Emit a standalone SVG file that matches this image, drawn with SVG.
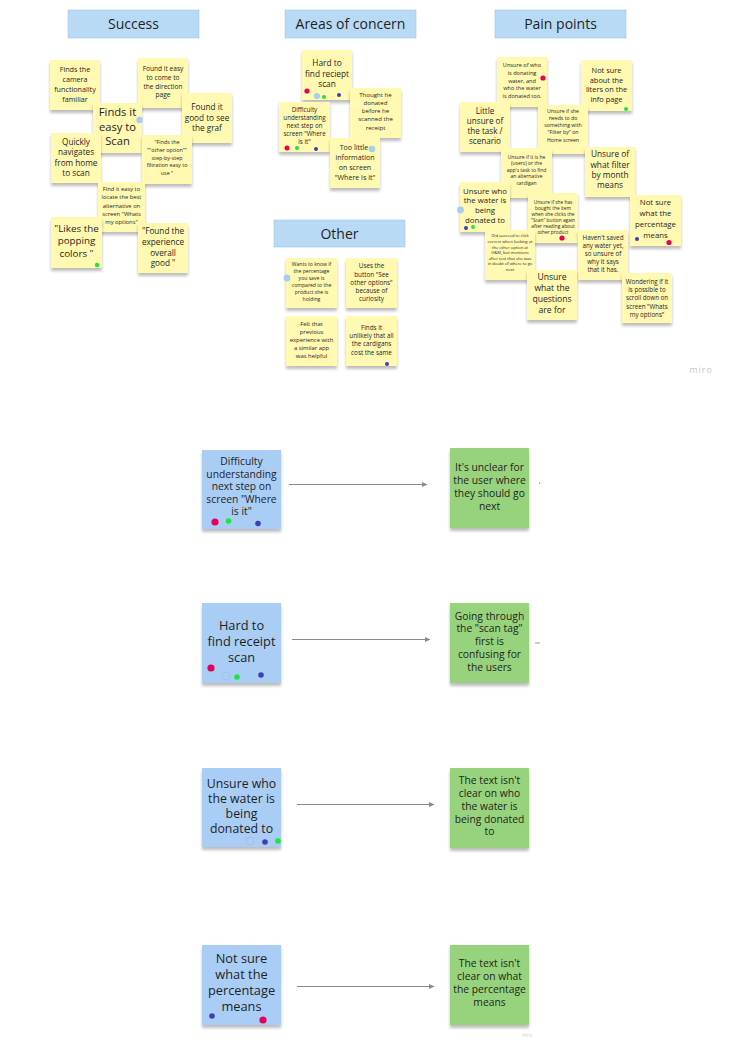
<svg xmlns="http://www.w3.org/2000/svg" width="729" height="1043" viewBox="0 0 729 1043">
<style>
text{font-family:"Open Sans","Noto Sans","Liberation Sans",sans-serif;fill:#1f1f1f;text-anchor:middle}
.y{fill:#fff9b1;filter:url(#sh)}
.b{fill:#a9cdf5;filter:url(#sh)}
.g{fill:#97d37c;filter:url(#sh)}
.h{fill:#b8daf5;stroke:#9fc6e6;stroke-width:0.6}
.ht{font-size:14px}
.dr{fill:#e6005c}.dg{fill:#1de53c}.db{fill:#3f3fb5}.dl{fill:#a9cdec}
.dc{fill:none;stroke:#9fbfd9;stroke-width:0.8}
.cn{stroke:#8a8a8a;stroke-width:1;fill:none;marker-end:url(#ah)}
</style>
<defs>
<filter id="sh" x="-20%" y="-20%" width="140%" height="150%">
<feDropShadow dx="0" dy="3" stdDeviation="1.8" flood-color="#000" flood-opacity="0.26"/>
</filter>
<marker id="ah" viewBox="0 0 6 6" refX="5" refY="3" markerWidth="6" markerHeight="6" orient="auto" markerUnits="userSpaceOnUse">
<path d="M0,0.5 L5.5,3 L0,5.5 z" fill="#8a8a8a"/>
</marker>
</defs>
<rect width="729" height="1043" fill="#ffffff"/>

<g id="header-success"><rect class="h" x="68" y="10" width="131" height="28"/><text class="ht" x="133.5" y="29">Success</text></g>
<g id="header-areas"><rect class="h" x="285" y="10" width="131" height="28"/><text class="ht" x="350.5" y="29">Areas of concern</text></g>
<g id="header-pain"><rect class="h" x="495" y="10" width="131" height="28"/><text class="ht" x="560.5" y="29">Pain points</text></g>
<g id="header-other"><rect class="h" x="274" y="220" width="131" height="27"/><text class="ht" x="339.5" y="238.5">Other</text></g>

<!-- Success -->
<g id="s1"><rect class="y" x="50" y="60" width="50" height="50"/><text font-size="7.2"><tspan x="75" y="71.6">Finds the</tspan><tspan x="75" dy="10">camera</tspan><tspan x="75" dy="10">functionality</tspan><tspan x="75" dy="10">familiar</tspan></text></g>
<g id="s2"><rect class="y" x="138" y="58" width="50" height="50"/><text font-size="6.6"><tspan x="163" y="70.7">Found it easy</tspan><tspan x="163" dy="8.9">to come to</tspan><tspan x="163" dy="8.9">the direction</tspan><tspan x="163" dy="8.9">page</tspan></text></g>
<g id="s3"><rect class="y" x="182" y="93" width="50" height="50"/><text font-size="8.2"><tspan x="207" y="109.7">Found it</tspan><tspan x="207" dy="10.8">good to see</tspan><tspan x="207" dy="10.8">the graf</tspan></text></g>
<g id="s4"><rect class="y" x="93" y="103" width="49" height="50"/><text font-size="11.2"><tspan x="117.5" y="116.3">Finds it</tspan><tspan x="117.5" dy="14.2">easy to</tspan><tspan x="117.5" dy="14.2">Scan</tspan></text><circle class="dl" cx="139.5" cy="120" r="3.2"/></g>
<g id="s5"><rect class="y" x="51" y="133" width="50" height="50"/><text font-size="8.2"><tspan x="76" y="144.7">Quickly</tspan><tspan x="76" dy="10.5">navigates</tspan><tspan x="76" dy="10.5">from home</tspan><tspan x="76" dy="10.5">to scan</tspan></text></g>
<g id="s6"><rect class="y" x="142" y="135" width="50" height="49"/><text font-size="5.4"><tspan x="167" y="144.3">"Finds the</tspan><tspan x="167" dy="7.6">""other option""</tspan><tspan x="167" dy="7.6">step-by-step</tspan><tspan x="167" dy="7.6">filtration easy to</tspan><tspan x="167" dy="7.6">use "</tspan></text></g>
<g id="s7"><rect class="y" x="98" y="182" width="47" height="50"/><text font-size="5.8"><tspan x="121.5" y="191.2">Find it easy to</tspan><tspan x="121.5" dy="8.2">locate the best</tspan><tspan x="121.5" dy="8.2">alternative on</tspan><tspan x="121.5" dy="8.2">screen "Whats</tspan><tspan x="121.5" dy="8.2">my options"</tspan></text></g>
<g id="s8"><rect class="y" x="51" y="217" width="51" height="51"/><text font-size="9.8"><tspan x="76.5" y="231.8">"Likes the</tspan><tspan x="76.5" dy="12.5">popping</tspan><tspan x="76.5" dy="12.5">colors "</tspan></text><circle class="dg" cx="97" cy="265" r="2.2"/></g>
<g id="s9"><rect class="y" x="138" y="223" width="50" height="50"/><text font-size="8.2"><tspan x="163" y="234">"Found the</tspan><tspan x="163" dy="10.8">experience</tspan><tspan x="163" dy="10.8">overall</tspan><tspan x="163" dy="10.8">good "</tspan></text></g>

<!-- Areas of concern -->
<g id="a1"><rect class="y" x="302" y="50" width="50" height="50"/><text font-size="8.3"><tspan x="327" y="66.3">Hard to</tspan><tspan x="327" dy="10.5">find reciept</tspan><tspan x="327" dy="10.5">scan</tspan></text><circle class="dr" cx="307" cy="91" r="2.6"/><circle class="dl" cx="317" cy="96" r="3"/><circle class="dg" cx="324" cy="97" r="2"/><circle class="db" cx="339" cy="95" r="2"/></g>
<g id="a2"><rect class="y" x="350" y="88" width="51" height="50"/><text font-size="6.1"><tspan x="375.5" y="96.5">Thought he</tspan><tspan x="375.5" dy="8.3">donated</tspan><tspan x="375.5" dy="8.3">before he</tspan><tspan x="375.5" dy="8.3">scanned the</tspan><tspan x="375.5" dy="8.3">receipt</tspan></text></g>
<g id="a3"><rect class="y" x="279" y="102" width="51" height="50"/><text font-size="6.2"><tspan x="304.5" y="112.3">Difficulty</tspan><tspan x="304.5" dy="7.9">understanding</tspan><tspan x="304.5" dy="7.9">next step on</tspan><tspan x="304.5" dy="7.9">screen "Where</tspan><tspan x="304.5" dy="7.9">is it"</tspan></text><circle class="dr" cx="287" cy="148" r="2.5"/><circle class="dg" cx="297" cy="148" r="2"/><circle class="db" cx="316" cy="149" r="2"/></g>
<g id="a4"><rect class="y" x="330" y="138" width="50" height="50"/><text font-size="7.1"><tspan x="354" y="149.5">Too little</tspan><tspan x="355" dy="10">information</tspan><tspan x="355" dy="10">on screen</tspan><tspan x="355" dy="10">"Where is it"</tspan></text><circle class="dl" cx="372" cy="149" r="3.3"/></g>

<!-- Other -->
<g id="o1"><rect class="y" x="286" y="258" width="51" height="50"/><text font-size="5.1"><tspan x="311.5" y="265.8">Wants to know if</tspan><tspan x="311.5" dy="7">the percentage</tspan><tspan x="311.5" dy="7">you save is</tspan><tspan x="311.5" dy="7">compared to the</tspan><tspan x="311.5" dy="7">product she is</tspan><tspan x="311.5" dy="7">holding</tspan></text><circle class="dl" cx="287" cy="278" r="3.4"/></g>
<g id="o2"><rect class="y" x="346" y="258" width="51" height="50"/><text font-size="6.3"><tspan x="371.5" y="268.3">Uses the</tspan><tspan x="371.5" dy="8.2">button "See</tspan><tspan x="371.5" dy="8.2">other options"</tspan><tspan x="371.5" dy="8.2">because of</tspan><tspan x="371.5" dy="8.2">curiosity</tspan></text></g>
<g id="o3"><rect class="y" x="286" y="316" width="51" height="50"/><text font-size="5.9"><tspan x="311.5" y="326.4">Felt that</tspan><tspan x="311.5" dy="7.8">previous</tspan><tspan x="311.5" dy="7.8">experience with</tspan><tspan x="311.5" dy="7.8">a similar app</tspan><tspan x="311.5" dy="7.8">was helpful</tspan></text></g>
<g id="o4"><rect class="y" x="346" y="316" width="51" height="50"/><text font-size="6.3"><tspan x="371.5" y="329.6">Finds it</tspan><tspan x="371.5" dy="8.3">unlikely that all</tspan><tspan x="371.5" dy="8.3">the cardigans</tspan><tspan x="371.5" dy="8.3">cost the same</tspan></text><circle class="db" cx="387" cy="364" r="2"/></g>

<!-- Pain points -->
<g id="p1"><rect class="y" x="497" y="57" width="50" height="50"/><text font-size="5.6"><tspan x="522" y="67">Unsure of who</tspan><tspan x="522" dy="7.8">is donating</tspan><tspan x="522" dy="7.8">water, and</tspan><tspan x="522" dy="7.8">who the water</tspan><tspan x="522" dy="7.8">is donated too.</tspan></text><circle class="dr" cx="543" cy="78" r="2.6"/></g>
<g id="p2"><rect class="y" x="581" y="60" width="51" height="51"/><text font-size="7.4"><tspan x="606.5" y="73.4">Not sure</tspan><tspan x="606.5" dy="9.4">about the</tspan><tspan x="606.5" dy="9.4">liters on the</tspan><tspan x="606.5" dy="9.4">info page</tspan></text><circle class="dg" cx="626" cy="109" r="2"/></g>
<g id="p3"><rect class="y" x="460" y="102" width="50" height="50"/><text font-size="8.1"><tspan x="485" y="113.7">Little</tspan><tspan x="485" dy="10.2">unsure of</tspan><tspan x="485" dy="10.2">the task /</tspan><tspan x="485" dy="10.2">scenario</tspan></text></g>
<g id="p4"><rect class="y" x="538" y="105" width="50" height="49"/><text font-size="5.2"><tspan x="563" y="112.8">Unsure if she</tspan><tspan x="563" dy="7.2">needs to do</tspan><tspan x="563" dy="7.2">something with</tspan><tspan x="563" dy="7.2">"Filter by" on</tspan><tspan x="563" dy="7.2">Home screen</tspan></text></g>
<g id="p5"><rect class="y" x="501" y="148" width="51" height="50"/><text font-size="5"><tspan x="526.5" y="158.5">Unsure if it is he</tspan><tspan x="526.5" dy="6.5">(users) or the</tspan><tspan x="526.5" dy="6.5">app's task to find</tspan><tspan x="526.5" dy="6.5">an alternative</tspan><tspan x="526.5" dy="6.5">cardigan</tspan></text></g>
<g id="p6"><rect class="y" x="585" y="147" width="50" height="50"/><text font-size="8.3"><tspan x="610" y="157.3">Unsure of</tspan><tspan x="610" dy="10.2">what filter</tspan><tspan x="610" dy="10.2">by month</tspan><tspan x="610" dy="10.2">means</tspan></text></g>
<g id="p7"><rect class="y" x="460" y="182" width="50" height="50"/><text font-size="7.8"><tspan x="485" y="193.5">Unsure who</tspan><tspan x="485" dy="9.8">the water is</tspan><tspan x="485" dy="9.8">being</tspan><tspan x="485" dy="9.8">donated to</tspan></text><circle class="dl" cx="460.5" cy="210" r="3.4"/><circle class="db" cx="466" cy="228" r="2"/><circle class="dg" cx="473" cy="227" r="2"/></g>
<g id="p8"><rect class="y" x="528" y="193" width="50" height="50"/><text font-size="4.8"><tspan x="553" y="204">Unsure if she has</tspan><tspan x="553" dy="6">bought the item</tspan><tspan x="553" dy="6">when she clicks the</tspan><tspan x="553" dy="6">"Scan" button again</tspan><tspan x="553" dy="6">after reading about</tspan><tspan x="553" dy="6">other product</tspan></text><circle class="dr" cx="562" cy="238" r="2.6"/></g>
<g id="p9"><rect class="y" x="630" y="195" width="51" height="51"/><text font-size="7.8"><tspan x="655.5" y="205">Not sure</tspan><tspan x="655.5" dy="11">what the</tspan><tspan x="655.5" dy="11">percentage</tspan><tspan x="655.5" dy="11">means</tspan></text><circle class="db" cx="637" cy="239" r="2"/><circle class="dr" cx="669" cy="242.5" r="2.6"/></g>
<g id="p10"><rect class="y" x="485" y="230" width="50" height="50"/><text font-size="4.1"><tspan x="510" y="237.4">Did succeed to click</tspan><tspan x="510" dy="5.6">correct when looking at</tspan><tspan x="510" dy="5.6">the other option at</tspan><tspan x="510" dy="5.6">H&amp;M, but mentions</tspan><tspan x="510" dy="5.6">after test that she was</tspan><tspan x="510" dy="5.6">in doubt of where to go</tspan><tspan x="510" dy="5.6">next</tspan></text></g>
<g id="p11"><rect class="y" x="578" y="230" width="50" height="50"/><text font-size="6.3"><tspan x="603" y="239.6">Haven't saved</tspan><tspan x="603" dy="8.2">any water yet,</tspan><tspan x="603" dy="8.2">so unsure of</tspan><tspan x="603" dy="8.2">why it says</tspan><tspan x="603" dy="8.2">that it has.</tspan></text></g>
<g id="p12"><rect class="y" x="527" y="270" width="50" height="50"/><text font-size="8.6"><tspan x="552" y="280.3">Unsure</tspan><tspan x="552" dy="10.9">what the</tspan><tspan x="552" dy="10.9">questions</tspan><tspan x="552" dy="10.9">are for</tspan></text></g>
<g id="p13"><rect class="y" x="622" y="273" width="50" height="50"/><text font-size="6.2"><tspan x="647" y="284">Wondering if it</tspan><tspan x="647" dy="8.2">is possible to</tspan><tspan x="647" dy="8.2">scroll down on</tspan><tspan x="647" dy="8.2">screen "Whats</tspan><tspan x="647" dy="8.2">my options"</tspan></text></g>

<text x="701" y="373" font-size="9" style="fill:#c9c9c9;letter-spacing:1px">miro</text>

<!-- Bottom rows -->
<g id="b1"><rect class="b" x="202" y="450" width="79" height="79"/><text font-size="10.3"><tspan x="241.5" y="465.4">Difficulty</tspan><tspan x="241.5" dy="12.5">understanding</tspan><tspan x="241.5" dy="12.5">next step on</tspan><tspan x="241.5" dy="12.5">screen "Where</tspan><tspan x="241.5" dy="12.5">is it"</tspan></text><circle class="dr" cx="215" cy="522" r="3.6"/><circle class="dg" cx="228.5" cy="521" r="2.8"/><circle class="db" cx="258" cy="523.5" r="2.8"/></g>
<g id="g1"><rect class="g" x="450" y="448" width="79" height="80"/><text font-size="10.3"><tspan x="489.5" y="471">It's unclear for</tspan><tspan x="489.5" dy="12.9">the user where</tspan><tspan x="489.5" dy="12.9">they should go</tspan><tspan x="489.5" dy="12.9">next</tspan></text></g>
<rect x="539" y="482.5" width="1.2" height="1.2" fill="#888"/>

<g id="b2"><rect class="b" x="202" y="603" width="79" height="80"/><text font-size="12.8"><tspan x="241.5" y="629.6">Hard to</tspan><tspan x="241.5" dy="16.3">find receipt</tspan><tspan x="241.5" dy="16.3">scan</tspan></text><circle class="dr" cx="211" cy="668" r="3.6"/><circle class="dc" cx="226" cy="676" r="4"/><circle class="dg" cx="237" cy="677" r="2.8"/><circle class="db" cx="261" cy="675" r="2.8"/></g>
<g id="g2"><rect class="g" x="450" y="603" width="79" height="80"/><text font-size="10.3"><tspan x="489.5" y="619.7">Going through</tspan><tspan x="489.5" dy="12.7">the "scan tag"</tspan><tspan x="489.5" dy="12.7">first is</tspan><tspan x="489.5" dy="12.7">confusing for</tspan><tspan x="489.5" dy="12.7">the users</tspan></text></g>
<rect x="535" y="642.5" width="5" height="1" fill="#999"/>

<g id="b3"><rect class="b" x="202" y="768" width="79" height="79"/><text font-size="12.3"><tspan x="241.5" y="787.6">Unsure who</tspan><tspan x="241.5" dy="15.2">the water is</tspan><tspan x="241.5" dy="15.2">being</tspan><tspan x="241.5" dy="15.2">donated to</tspan></text><circle class="dc" cx="250" cy="841" r="4"/><circle class="db" cx="265" cy="842" r="2.8"/><circle class="dg" cx="278" cy="841" r="2.8"/></g>
<g id="g3"><rect class="g" x="450" y="768" width="79" height="80"/><text font-size="10.3"><tspan x="489.5" y="784.4">The text isn't</tspan><tspan x="489.5" dy="12.75">clear on who</tspan><tspan x="489.5" dy="12.75">the water is</tspan><tspan x="489.5" dy="12.75">being donated</tspan><tspan x="489.5" dy="12.75">to</tspan></text></g>

<g id="b4"><rect class="b" x="202" y="945" width="79" height="80"/><text font-size="12.8"><tspan x="241.5" y="962.9">Not sure</tspan><tspan x="241.5" dy="16.1">what the</tspan><tspan x="241.5" dy="16.1">percentage</tspan><tspan x="241.5" dy="16.1">means</tspan></text><circle class="db" cx="212" cy="1016" r="2.8"/><circle class="dr" cx="263" cy="1020" r="3.6"/></g>
<g id="g4"><rect class="g" x="450" y="945" width="79" height="80"/><text font-size="10.3"><tspan x="489.5" y="967">The text isn't</tspan><tspan x="489.5" dy="13">clear on what</tspan><tspan x="489.5" dy="13">the percentage</tspan><tspan x="489.5" dy="13">means</tspan></text></g>
<text x="527" y="1037" font-size="4.5" style="fill:#d0d0d0">miro</text>

<g id="connectors">
<line class="cn" x1="289" y1="484.5" x2="427" y2="484.5"/>
<line class="cn" x1="292" y1="639.5" x2="430" y2="639.5"/>
<line class="cn" x1="297" y1="804.5" x2="434" y2="804.5"/>
<line class="cn" x1="297" y1="986.5" x2="434" y2="986.5"/>
</g>
</svg>
